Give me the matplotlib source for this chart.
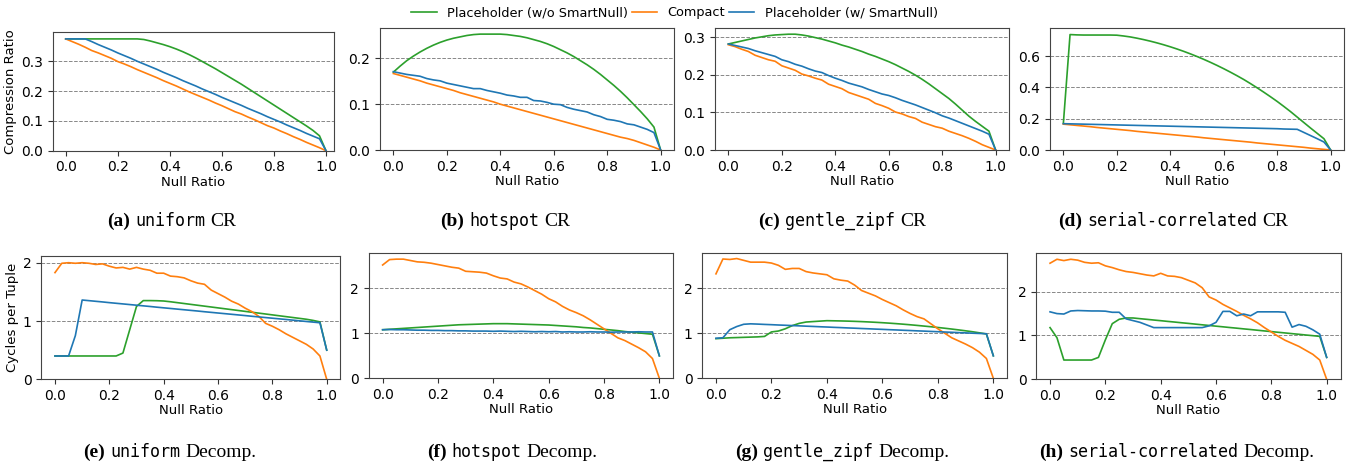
import matplotlib
matplotlib.use("Agg")
from matplotlib import pyplot as plt
from matplotlib.offsetbox import TextArea, HPacker, AnnotationBbox

# null ratio grid used by every panel
null_ratio = [0.0, 0.025, 0.05, 0.075, 0.1, 0.125, 0.15, 0.175, 0.2, 0.225,
              0.25, 0.275, 0.3, 0.325, 0.35, 0.375, 0.4, 0.425, 0.45, 0.475,
              0.5, 0.525, 0.55, 0.575, 0.6, 0.625, 0.65, 0.675, 0.7, 0.725,
              0.75, 0.775, 0.8, 0.825, 0.85, 0.875, 0.9, 0.925, 0.95, 0.975, 1.0]

series_names = ["Placeholder (w/o SmartNull)", "Compact", "Placeholder (w/ SmartNull)"]
series_colors = ["#2ca02c", "#ff7f0e", "#1f77b4"]

# ---- compression ratio ----
uniform_cr_wo = [0.375, 0.375, 0.375, 0.375, 0.375, 0.375, 0.375, 0.375, 0.375, 0.375,
                 0.375, 0.375, 0.373, 0.368, 0.362, 0.356, 0.349, 0.341, 0.332, 0.322,
                 0.311, 0.299, 0.287, 0.275, 0.262, 0.249, 0.236, 0.223, 0.209, 0.195,
                 0.181, 0.167, 0.153, 0.139, 0.125, 0.111, 0.097, 0.083, 0.068, 0.050, 0.0]
uniform_cr_compact = [0.375, 0.366, 0.357, 0.347, 0.336, 0.328, 0.319, 0.310, 0.299, 0.291,
                      0.282, 0.272, 0.263, 0.254, 0.245, 0.235, 0.226, 0.217, 0.207, 0.197,
                      0.188, 0.179, 0.170, 0.160, 0.151, 0.141, 0.131, 0.123, 0.113, 0.104,
                      0.094, 0.084, 0.076, 0.066, 0.057, 0.047, 0.038, 0.028, 0.019, 0.010, 0.0]
uniform_cr_w = [0.375, 0.375, 0.375, 0.375, 0.366, 0.356, 0.347, 0.338, 0.328, 0.319,
                0.310, 0.300, 0.291, 0.282, 0.273, 0.263, 0.254, 0.245, 0.235, 0.226,
                0.217, 0.207, 0.198, 0.189, 0.179, 0.170, 0.161, 0.152, 0.142, 0.133,
                0.124, 0.114, 0.105, 0.096, 0.086, 0.077, 0.068, 0.058, 0.049, 0.040, 0.0]

hotspot_cr_wo = [0.170, 0.183, 0.195, 0.205, 0.214, 0.222, 0.229, 0.235, 0.240, 0.244,
                 0.247, 0.250, 0.252, 0.253, 0.253, 0.253, 0.253, 0.252, 0.250, 0.248,
                 0.245, 0.241, 0.237, 0.232, 0.226, 0.219, 0.212, 0.204, 0.195, 0.186,
                 0.176, 0.165, 0.153, 0.141, 0.128, 0.114, 0.099, 0.084, 0.068, 0.050, 0.0]
hotspot_cr_compact = [0.167, 0.163, 0.159, 0.155, 0.151, 0.146, 0.142, 0.138, 0.134, 0.130,
                      0.125, 0.121, 0.117, 0.113, 0.109, 0.105, 0.100, 0.096, 0.092, 0.088,
                      0.084, 0.080, 0.076, 0.072, 0.068, 0.064, 0.060, 0.056, 0.052, 0.048,
                      0.044, 0.040, 0.036, 0.032, 0.028, 0.025, 0.021, 0.016, 0.011, 0.006, 0.0]
hotspot_cr_w = [0.171, 0.168, 0.165, 0.163, 0.161, 0.156, 0.153, 0.151, 0.146, 0.143,
                0.140, 0.137, 0.134, 0.134, 0.130, 0.127, 0.124, 0.120, 0.118, 0.115,
                0.115, 0.108, 0.107, 0.104, 0.100, 0.099, 0.093, 0.089, 0.086, 0.083,
                0.077, 0.073, 0.067, 0.065, 0.062, 0.057, 0.055, 0.050, 0.045, 0.038, 0.0]

zipf_cr_wo = [0.282, 0.286, 0.290, 0.294, 0.298, 0.301, 0.304, 0.306, 0.307, 0.308,
              0.308, 0.306, 0.303, 0.299, 0.295, 0.290, 0.285, 0.279, 0.274, 0.268,
              0.262, 0.255, 0.249, 0.242, 0.235, 0.227, 0.218, 0.209, 0.199, 0.188,
              0.176, 0.163, 0.150, 0.137, 0.122, 0.106, 0.090, 0.076, 0.063, 0.050, 0.0]
zipf_cr_compact = [0.280, 0.275, 0.268, 0.262, 0.252, 0.246, 0.240, 0.236, 0.224, 0.218,
                   0.212, 0.202, 0.197, 0.191, 0.186, 0.175, 0.169, 0.163, 0.153, 0.147,
                   0.141, 0.135, 0.124, 0.118, 0.111, 0.101, 0.096, 0.089, 0.084, 0.074,
                   0.068, 0.062, 0.058, 0.050, 0.044, 0.038, 0.031, 0.023, 0.014, 0.007, 0.0]
zipf_cr_w = [0.282, 0.278, 0.274, 0.270, 0.264, 0.259, 0.254, 0.249, 0.240, 0.235,
             0.228, 0.223, 0.216, 0.210, 0.206, 0.198, 0.191, 0.185, 0.178, 0.173,
             0.168, 0.161, 0.155, 0.149, 0.145, 0.139, 0.132, 0.126, 0.120, 0.113,
             0.106, 0.099, 0.091, 0.085, 0.078, 0.071, 0.064, 0.057, 0.050, 0.042, 0.0]

serial_cr_wo = [0.170, 0.737, 0.735, 0.734, 0.734, 0.734, 0.734, 0.734, 0.733, 0.728,
                0.722, 0.714, 0.705, 0.695, 0.684, 0.672, 0.659, 0.645, 0.630, 0.614,
                0.597, 0.579, 0.560, 0.540, 0.519, 0.497, 0.474, 0.450, 0.424, 0.397,
                0.369, 0.340, 0.310, 0.278, 0.245, 0.210, 0.175, 0.140, 0.106, 0.072, 0.0]
serial_cr_compact = [0.165, 0.161, 0.157, 0.153, 0.149, 0.144, 0.140, 0.136, 0.132, 0.128,
                     0.124, 0.119, 0.115, 0.111, 0.107, 0.103, 0.099, 0.095, 0.091, 0.087,
                     0.083, 0.078, 0.074, 0.070, 0.066, 0.062, 0.058, 0.054, 0.050, 0.045,
                     0.041, 0.037, 0.033, 0.029, 0.025, 0.021, 0.017, 0.012, 0.008, 0.004, 0.0]
serial_cr_w = [0.168, 0.167, 0.166, 0.165, 0.164, 0.163, 0.162, 0.161, 0.160, 0.159,
               0.158, 0.157, 0.156, 0.155, 0.154, 0.153, 0.152, 0.151, 0.150, 0.149,
               0.148, 0.147, 0.146, 0.145, 0.144, 0.143, 0.142, 0.141, 0.140, 0.139,
               0.138, 0.137, 0.136, 0.134, 0.133, 0.132, 0.112, 0.092, 0.072, 0.051, 0.0]

# ---- decompression cycles per tuple ----
uniform_dc_wo = [0.40, 0.40, 0.40, 0.40, 0.40, 0.40, 0.40, 0.40, 0.40, 0.40,
                 0.45, 0.85, 1.25, 1.35, 1.35, 1.348, 1.343, 1.33, 1.315, 1.30,
                 1.285, 1.27, 1.255, 1.24, 1.225, 1.21, 1.195, 1.18, 1.165, 1.15,
                 1.135, 1.12, 1.105, 1.09, 1.075, 1.06, 1.045, 1.03, 1.01, 0.985, 0.50]
uniform_dc_compact = [1.83, 1.99, 2.00, 1.99, 2.00, 1.99, 1.97, 1.98, 1.94, 1.91,
                      1.92, 1.89, 1.92, 1.89, 1.87, 1.82, 1.82, 1.77, 1.76, 1.74,
                      1.69, 1.65, 1.63, 1.53, 1.47, 1.41, 1.34, 1.29, 1.22, 1.16,
                      1.08, 0.96, 0.91, 0.85, 0.78, 0.72, 0.66, 0.60, 0.52, 0.40, 0.0]
uniform_dc_w = [0.40, 0.40, 0.40, 0.75, 1.36, 1.349, 1.338, 1.327, 1.315, 1.304,
                1.293, 1.282, 1.271, 1.260, 1.249, 1.237, 1.226, 1.215, 1.204, 1.193,
                1.182, 1.171, 1.159, 1.148, 1.137, 1.126, 1.115, 1.104, 1.093, 1.081,
                1.070, 1.059, 1.048, 1.037, 1.026, 1.015, 1.003, 0.992, 0.981, 0.970, 0.50]

hotspot_dc_wo = [1.08, 1.09, 1.10, 1.11, 1.12, 1.13, 1.14, 1.15, 1.16, 1.17,
                 1.18, 1.19, 1.195, 1.20, 1.205, 1.21, 1.215, 1.215, 1.215, 1.21,
                 1.205, 1.20, 1.195, 1.19, 1.185, 1.175, 1.165, 1.155, 1.145, 1.13,
                 1.12, 1.105, 1.09, 1.075, 1.06, 1.04, 1.025, 1.01, 0.995, 0.98, 0.50]
hotspot_dc_compact = [2.52, 2.64, 2.65, 2.65, 2.62, 2.59, 2.58, 2.56, 2.53, 2.50,
                      2.47, 2.45, 2.38, 2.37, 2.36, 2.34, 2.28, 2.23, 2.21, 2.14,
                      2.10, 2.03, 1.95, 1.87, 1.77, 1.70, 1.60, 1.52, 1.46, 1.39,
                      1.30, 1.20, 1.10, 1.00, 0.90, 0.84, 0.76, 0.68, 0.59, 0.44, 0.0]
hotspot_dc_w = [1.08, 1.085, 1.08, 1.08, 1.075, 1.07, 1.07, 1.065, 1.065, 1.06,
                1.06, 1.055, 1.055, 1.05, 1.05, 1.05, 1.045, 1.05, 1.045, 1.04,
                1.045, 1.04, 1.035, 1.04, 1.035, 1.04, 1.03, 1.035, 1.03, 1.03,
                1.035, 1.03, 1.03, 1.025, 1.03, 1.03, 1.03, 1.035, 1.03, 1.03, 0.50]

zipf_dc_wo = [0.88, 0.89, 0.90, 0.905, 0.91, 0.915, 0.92, 0.93, 1.03, 1.05,
              1.10, 1.17, 1.22, 1.25, 1.26, 1.27, 1.28, 1.277, 1.274, 1.270,
              1.265, 1.259, 1.252, 1.244, 1.235, 1.225, 1.214, 1.202, 1.189, 1.175,
              1.160, 1.145, 1.129, 1.112, 1.094, 1.075, 1.055, 1.034, 1.010, 0.985, 0.50]
zipf_dc_compact = [2.32, 2.65, 2.64, 2.66, 2.62, 2.58, 2.58, 2.58, 2.56, 2.51,
                   2.42, 2.44, 2.44, 2.37, 2.34, 2.32, 2.30, 2.21, 2.18, 2.16,
                   2.07, 1.95, 1.89, 1.83, 1.75, 1.68, 1.61, 1.52, 1.44, 1.37,
                   1.32, 1.21, 1.10, 1.00, 0.90, 0.83, 0.76, 0.68, 0.58, 0.44, 0.0]
zipf_dc_w = [0.89, 0.90, 1.08, 1.15, 1.20, 1.21, 1.204, 1.197, 1.191, 1.184,
             1.178, 1.171, 1.165, 1.158, 1.152, 1.145, 1.139, 1.132, 1.126, 1.119,
             1.113, 1.106, 1.100, 1.093, 1.087, 1.080, 1.074, 1.067, 1.061, 1.054,
             1.048, 1.041, 1.035, 1.028, 1.022, 1.015, 1.009, 1.002, 0.996, 0.990, 0.50]

serial_dc_wo = [1.18, 0.95, 0.44, 0.44, 0.44, 0.44, 0.44, 0.50, 0.90, 1.27,
                1.37, 1.40, 1.40, 1.384, 1.369, 1.353, 1.338, 1.322, 1.307, 1.291,
                1.276, 1.260, 1.244, 1.229, 1.213, 1.198, 1.182, 1.167, 1.151, 1.136,
                1.120, 1.104, 1.089, 1.073, 1.058, 1.042, 1.027, 1.011, 0.996, 0.98, 0.50]
serial_dc_compact = [2.65, 2.74, 2.71, 2.74, 2.72, 2.67, 2.65, 2.66, 2.59, 2.55,
                     2.50, 2.46, 2.44, 2.41, 2.38, 2.36, 2.42, 2.36, 2.35, 2.32,
                     2.26, 2.20, 2.09, 1.88, 1.81, 1.71, 1.63, 1.55, 1.46, 1.38,
                     1.29, 1.18, 1.08, 0.98, 0.89, 0.82, 0.75, 0.66, 0.57, 0.44, 0.0]
serial_dc_w = [1.54, 1.50, 1.49, 1.56, 1.57, 1.565, 1.56, 1.56, 1.555, 1.53,
               1.53, 1.38, 1.34, 1.30, 1.24, 1.18, 1.18, 1.18, 1.18, 1.18,
               1.18, 1.18, 1.18, 1.22, 1.30, 1.55, 1.55, 1.45, 1.49, 1.45,
               1.54, 1.54, 1.54, 1.54, 1.53, 1.19, 1.25, 1.21, 1.13, 1.03, 0.50]

W, H = 1354, 465

panels = [
    dict(box=(52.7, 333.8, 32.2, 150.7), xlim=(-0.05, 1.03), ylim=(0, 0.3975),
         yticks=[0, 0.1, 0.2, 0.3], data=(uniform_cr_wo, uniform_cr_compact, uniform_cr_w),
         ylabel="Compression Ratio", cap=("(a)", "uniform", "CR"), cap_xy=(172, 244)),
    dict(box=(380, 674, 28.3, 150), xlim=(-0.05, 1.05), ylim=(0, 0.2657),
         yticks=[0, 0.1, 0.2], data=(hotspot_cr_wo, hotspot_cr_compact, hotspot_cr_w),
         ylabel=None, cap=("(b)", "hotspot", "CR"), cap_xy=(505, 244)),
    dict(box=(715, 1009, 28.3, 150), xlim=(-0.05, 1.05), ylim=(0, 0.3237),
         yticks=[0, 0.1, 0.2, 0.3], data=(zipf_cr_wo, zipf_cr_compact, zipf_cr_w),
         ylabel=None, cap=("(c)", "gentle_zipf", "CR"), cap_xy=(842, 244)),
    dict(box=(1050, 1344, 28.3, 150), xlim=(-0.05, 1.05), ylim=(0, 0.777),
         yticks=[0, 0.2, 0.4, 0.6], data=(serial_cr_wo, serial_cr_compact, serial_cr_w),
         ylabel=None, cap=("(d)", "serial-correlated", "CR"), cap_xy=(1173, 244)),
    dict(box=(41.4, 340.3, 256, 379.3), xlim=(-0.05, 1.05), ylim=(0, 2.115),
         yticks=[0, 1, 2], data=(uniform_dc_wo, uniform_dc_compact, uniform_dc_w),
         ylabel="Cycles per Tuple", cap=("(e)", "uniform", "Decomp."), cap_xy=(170, 13)),
    dict(box=(368.8, 673.2, 253.3, 378.3), xlim=(-0.05, 1.05), ylim=(0, 2.78),
         yticks=[0, 1, 2], data=(hotspot_dc_wo, hotspot_dc_compact, hotspot_dc_w),
         ylabel=None, cap=("(f)", "hotspot", "Decomp."), cap_xy=(512, 13)),
    dict(box=(702.1, 1007.2, 252.7, 378.3), xlim=(-0.05, 1.05), ylim=(0, 2.79),
         yticks=[0, 1, 2], data=(zipf_dc_wo, zipf_dc_compact, zipf_dc_w),
         ylabel=None, cap=("(g)", "gentle_zipf", "Decomp."), cap_xy=(842, 13)),
    dict(box=(1036.2, 1340.5, 252.7, 379.3), xlim=(-0.05, 1.05), ylim=(0, 2.89),
         yticks=[0, 1, 2], data=(serial_dc_wo, serial_dc_compact, serial_dc_w),
         ylabel=None, cap=("(h)", "serial-correlated", "Decomp."), cap_xy=(1177, 13)),
]

fig = plt.figure(figsize=(W / 100, H / 100), dpi=100)

handles = []
for p in panels:
    l, r, t, b = p["box"]
    ax = fig.add_axes([l / W, 1 - b / H, (r - l) / W, (b - t) / H])
    for vals, name, col in zip(p["data"], series_names, series_colors):
        line, = ax.plot(null_ratio, vals, color=col, lw=1.2, label=name)
        if len(handles) < 3:
            handles.append(line)
    ax.set_xlim(*p["xlim"])
    ax.set_ylim(*p["ylim"])
    ax.set_yticks(p["yticks"])
    ax.set_xticks([0, 0.2, 0.4, 0.6, 0.8, 1.0])
    ax.grid(axis="y", linestyle="--", color="#888888", lw=0.7)
    ax.set_axisbelow(True)
    ax.tick_params(labelsize=10, color="#333333")
    for s in ax.spines.values():
        s.set_color("#444444")
    ax.set_xlabel("Null Ratio", fontsize=9.5, labelpad=1)
    if p["ylabel"]:
        ax.set_ylabel(p["ylabel"], fontsize=9.5, labelpad=3)

    # caption: bold label, monospace dataset name, serif suffix
    lab, mono, tail = p["cap"]
    parts = [
        TextArea(lab, textprops=dict(family="Liberation Serif", weight="bold", size=14)),
        TextArea(mono, textprops=dict(family="DejaVu Sans Mono", size=12)),
        TextArea(tail, textprops=dict(family="Liberation Serif", size=14)),
    ]
    pack = HPacker(children=parts, sep=3.6, pad=0, align="baseline")
    ab = AnnotationBbox(pack, p["cap_xy"], xycoords="figure pixels", frameon=False,
                        box_alignment=(0.5, 0.5), pad=0)
    fig.add_artist(ab)

fig.legend(handles, series_names, loc="center", bbox_to_anchor=(674.5 / W, 1 - 12.7 / H),
           ncol=3, frameon=False, fontsize=9.3, columnspacing=0.25, borderaxespad=0,
           handlelength=2.0, handletextpad=0.8)

fig.savefig("out.png", dpi=100)
